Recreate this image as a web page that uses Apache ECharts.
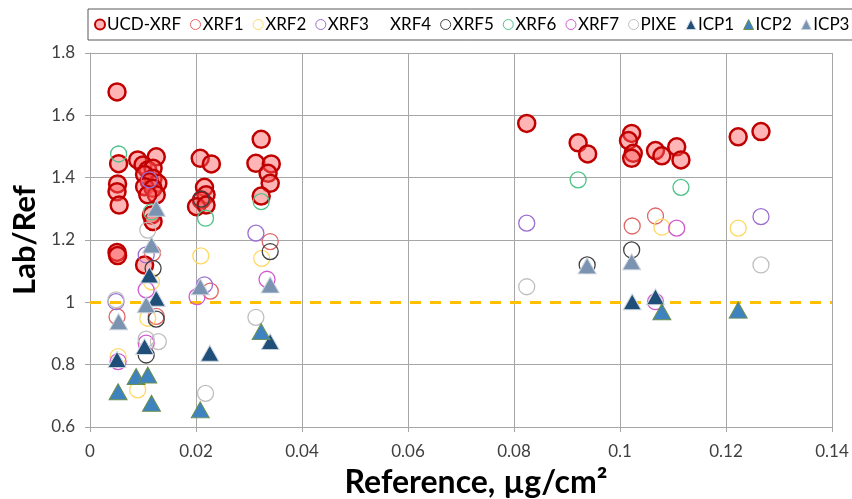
<!DOCTYPE html>
<html><head><meta charset="utf-8">
<script src="https://cdn.jsdelivr.net/npm/echarts@6/dist/echarts.min.js"></script>
<style>html,body{margin:0;padding:0;background:#fff}#c{width:852px;height:499px}</style>
</head><body><div id="c"></div>
<script>
// ---- data (x = Reference µg/cm², y = Lab/Ref) ----
const seriesNames = ["UCD-XRF","XRF1","XRF2","XRF3","XRF4","XRF5","XRF6","XRF7","PIXE","ICP1","ICP2","ICP3"];
const ucdXrf = [[0.0051,1.675],[0.0054,1.445],[0.0052,1.38],[0.0051,1.355],[0.0055,1.312],[0.0051,1.16],[0.0052,1.150],
  [0.0125,1.467],[0.0090,1.457],[0.0100,1.441],[0.0109,1.425],[0.0119,1.430],[0.0103,1.41],[0.0119,1.398],[0.0128,1.382],
  [0.0112,1.387],[0.0103,1.371],[0.0119,1.366],[0.0125,1.345],[0.0109,1.345],[0.0116,1.280],[0.0119,1.259],[0.0103,1.12],
  [0.0208,1.462],[0.0229,1.444],[0.0216,1.369],[0.0219,1.345],[0.0210,1.328],[0.0201,1.307],[0.0219,1.312],
  [0.0323,1.523],[0.0313,1.446],[0.0342,1.444],[0.0336,1.414],[0.0340,1.382],[0.0323,1.341],
  [0.0824,1.574],[0.0921,1.512],[0.0939,1.476],
  [0.1022,1.542],[0.1016,1.519],[0.1025,1.478],[0.1022,1.462],[0.1067,1.487],[0.1079,1.470],[0.1107,1.499],[0.1115,1.457],
  [0.1223,1.531],[0.1266,1.548]];
const xrf1 = [[0.0340,1.195],[0.0227,1.036],[0.0051,0.954],[0.0118,1.158],[0.0125,0.955],[0.1023,1.245],[0.1067,1.277]];
const xrf2 = [[0.0209,1.149],[0.0324,1.141],[0.0116,1.066],[0.0109,0.949],[0.0053,0.826],[0.0090,0.719],[0.1079,1.241],[0.1223,1.238]];
const xrf3 = [[0.0112,1.393],[0.0313,1.222],[0.0216,1.056],[0.0049,1.002],[0.0106,1.152],[0.0824,1.254],[0.1266,1.275]];
const xrf4 = [];
const xrf5 = [[0.0210,1.331],[0.0340,1.163],[0.0119,1.109],[0.0125,0.946],[0.0106,0.831],[0.0938,1.120],[0.1022,1.168]];
const xrf6 = [[0.0054,1.476],[0.0116,1.290],[0.0218,1.270],[0.0323,1.323],[0.0921,1.393],[0.1115,1.369]];
const xrf7 = [[0.0202,1.018],[0.0334,1.074],[0.0106,1.040],[0.0053,0.810],[0.0106,0.869],[0.1067,1.002],[0.1107,1.238]];
const pixe = [[0.0049,1.008],[0.0106,0.882],[0.0129,0.874],[0.0109,1.232],[0.0218,0.708],[0.0313,0.952],[0.0824,1.050],[0.1266,1.120]];
const icp1 = [[0.0112,1.088],[0.0125,1.013],[0.0103,0.858],[0.0051,0.817],[0.0226,0.837],[0.0340,0.874],[0.1023,1.002],[0.1067,1.018]];
const icp2 = [[0.0053,0.713],[0.0087,0.762],[0.0109,0.767],[0.0116,0.676],[0.0208,0.655],[0.0323,0.906],[0.1079,0.970],[0.1223,0.975]];
const icp3 = [[0.0116,1.184],[0.0106,0.992],[0.0054,0.938],[0.0125,1.302],[0.0208,1.050],[0.0340,1.056],[0.0938,1.117],[0.1022,1.130]];
const xTicks = {min:0, max:0.14, interval:0.02};
const yTicks = {min:0.6, max:1.8, interval:0.2};
const refLine = 1;

const seriesData = [ucdXrf,xrf1,xrf2,xrf3,xrf4,xrf5,xrf6,xrf7,pixe,icp1,icp2,icp3];
const styles = [
  {symbol:'circle', size:17, color:'rgba(255,90,90,0.45)', border:'#C00000', bw:2.5},
  {symbol:'circle', size:16, color:'rgba(0,0,0,0)', border:'#E06666', bw:1.3},
  {symbol:'circle', size:16, color:'rgba(0,0,0,0)', border:'#FFD966', bw:1.3},
  {symbol:'circle', size:16, color:'rgba(0,0,0,0)', border:'#9B6FD0', bw:1.3},
  {symbol:'none', size:16, color:'rgba(0,0,0,0)', border:'rgba(0,0,0,0)', bw:0},
  {symbol:'circle', size:16, color:'rgba(0,0,0,0)', border:'#404040', bw:1.3},
  {symbol:'circle', size:16, color:'rgba(0,0,0,0)', border:'#4CC38A', bw:1.3},
  {symbol:'circle', size:16, color:'rgba(0,0,0,0)', border:'#D05AD0', bw:1.3},
  {symbol:'circle', size:16, color:'rgba(0,0,0,0)', border:'#BFBFBF', bw:1.3},
  {symbol:'triangle', size:[18,16], color:'#1F4E79', border:'#D0D8E0', bw:1},
  {symbol:'triangle', size:[18,16], color:'#3E82C0', border:'#6A8F4A', bw:1},
  {symbol:'triangle', size:[18,16], color:'#7A93B0', border:'#C8D0DA', bw:1}
];

const series = seriesNames.map((n,i)=>({
  name:n, type:'scatter', data:seriesData[i], symbol:styles[i].symbol==='none'?'circle':styles[i].symbol,
  symbolSize:styles[i].size,
  itemStyle:{color:styles[i].color, borderColor:styles[i].border, borderWidth:styles[i].bw, opacity:1},
  emphasis:{disabled:true}, silent:true, z:3
}));
series.push({
  type:'line', data:[], silent:true, z:2,
  markLine:{silent:true, symbol:'none', label:{show:false}, z:2,
    lineStyle:{color:'#FFC000', width:3, type:[11,9]},
    data:[{yAxis:refLine}]}
});

const legendData = seriesNames.map((n,i)=>{
  const st = styles[i];
  const item = {name:n, itemStyle:{color:st.color, borderColor:st.border, borderWidth: i===0?2:1}};
  if (st.symbol==='none') { item.itemStyle={color:'rgba(0,0,0,0)',borderColor:'rgba(0,0,0,0)',borderWidth:0}; }
  return item;
});

const chart = echarts.init(document.getElementById('c'), null, {renderer:'canvas'});
chart.setOption({
  animation:false,
  backgroundColor:'#fff',
  grid:{left:90, right:20, top:53, bottom:72, containLabel:false, outerBoundsMode:'none'},
  legend:{
    data:legendData, left:88, top:9, orient:'horizontal',
    itemWidth:10, itemHeight:10, itemGap:9,
    borderColor:'#595959', borderWidth:1, padding:[7,3,7,6],
    textStyle:{fontFamily:'Lato', fontSize:17, color:'#000', padding:[0,0,0,-3]},
    selectedMode:false
  },
  xAxis:{
    type:'value', min:xTicks.min, max:xTicks.max, interval:xTicks.interval,
    name:'Reference, µg/cm²', nameLocation:'middle', nameGap:40,
    nameTextStyle:{fontFamily:'Lato', fontSize:32, fontWeight:'bold', color:'#000', padding:[0,0,0,30]},
    axisLine:{show:true, onZero:false, lineStyle:{color:'#A6A6A6', width:1}},
    axisTick:{show:true, length:5, lineStyle:{color:'#A6A6A6'}},
    axisLabel:{fontFamily:'Lato', fontSize:17, color:'#404040', margin:16},
    splitLine:{show:true, lineStyle:{color:'#A6A6A6', width:1}}
  },
  yAxis:{
    type:'value', min:yTicks.min, max:yTicks.max, interval:yTicks.interval,
    name:'Lab/Ref', nameLocation:'middle', nameGap:46, nameRotate:90,
    nameTextStyle:{fontFamily:'Lato', fontSize:31, fontWeight:'bold', color:'#000'},
    axisLine:{show:true, onZero:false, lineStyle:{color:'#A6A6A6', width:1}},
    axisTick:{show:true, length:5, lineStyle:{color:'#A6A6A6'}},
    axisLabel:{fontFamily:'Lato', fontSize:17, color:'#404040', margin:15},
    splitLine:{show:true, lineStyle:{color:['#A6A6A6','#A6A6A6','rgba(0,0,0,0)','#A6A6A6','#A6A6A6','#A6A6A6','#A6A6A6'], width:1}}
  },
  series:series
});
</script>
</body></html>
